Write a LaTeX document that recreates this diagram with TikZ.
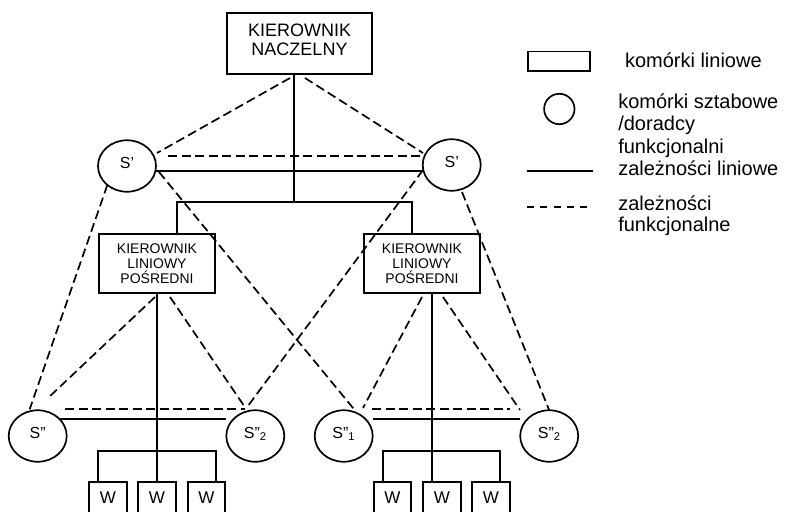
\documentclass[tikz,border=0pt]{standalone}
\usepackage{fontspec}
\setmainfont{Liberation Sans}
\usetikzlibrary{shapes.geometric,calc}

\begin{document}
\begin{tikzpicture}[x=1pt,y=-1pt,
  every node/.style={inner sep=0pt, outer sep=0pt},
  line/.style={line width=1.7pt},
  func/.style={line width=1.7pt, dash pattern=on 9pt off 4.5pt},
  keyfunc/.style={line width=1.7pt, dash pattern=on 7pt off 6.3pt},
  box/.style={draw, line width=1.7pt, rectangle, align=center},
  headbox/.style={box, minimum width=145.5pt, minimum height=61.5pt,
    font=\fontsize{18}{19}\selectfont},
  midbox/.style={box, minimum width=116.5pt, minimum height=59.5pt,
    font=\fontsize{14}{15}\selectfont},
  staff/.style={draw, ellipse, line width=1.7pt, minimum width=58pt,
    minimum height=51.5pt, text depth=7pt, font=\fontsize{16}{16}\selectfont},
  wbox/.style={box, anchor=north, minimum width=37.5pt, minimum height=32pt,
    font=\fontsize{17}{17}\selectfont},
  keytext/.style={anchor=base west, font=\fontsize{20}{22}\selectfont}
]
\useasboundingbox (0,0) rectangle (786,511);
\clip (0,0) rectangle (786,511);

% line cells
\node[headbox] (top) at (299.5,43.5) {KIEROWNIK\\NACZELNY\rule[-7.5pt]{0pt}{7.5pt}};
\node[midbox] (midL) at (157,263.5) {KIEROWNIK\\LINIOWY\\POŚREDNI};
\node[midbox] (midR) at (422,263.5) {KIEROWNIK\\LINIOWY\\POŚREDNI};

% staff cells
\node[staff] (sL)  at (127,166)   {S’};
\node[staff] (sR)  at (451.7,165) {S’};
\node[staff] (aL)  at (37.7,436)  {S”};
\node[staff] (aL2) at (255.3,436) {S”\textsubscript{2}};
\node[staff] (aR1) at (343.7,436) {S”\textsubscript{1}};
\node[staff] (aR2) at (549.2,436) {S”\textsubscript{2}};

% workers
\node[wbox] (wL1) at (108,482)   {W};
\node[wbox] (wL2) at (157,482)   {W};
\node[wbox] (wL3) at (206.5,482) {W};
\node[wbox] (wR1) at (392.5,482) {W};
\node[wbox] (wR2) at (442,482)   {W};
\node[wbox] (wR3) at (491,482)   {W};

% junction points of the line tree
\coordinate (jTop) at (294,202);
\coordinate (jL) at (177,202);
\coordinate (jR) at (412,202);
\coordinate (bL) at (157,451);
\coordinate (bR) at (432,451);
\coordinate (rLine) at ([yshift=17pt]aR1.east);

% line dependencies
\draw[line] (top.south -| jTop) -- (jTop);
\draw[line] (midL.north -| jL) -- (jL) -- (jR) -- (midR.north -| jR);
\draw[line] (sL.350) -- (sL.350 -| sR.west);
\draw[line] (midL.south) -- (wL2.north);
\draw[line] (aL.38) -- (aL.38 -| aL2.west);
\draw[line] ($(wL1.north)+(-10,0)$) |- (bL) -| ($(wL3.north)+(9.5,0)$);
\draw[line] ($(midR.south)+(10,0)$) -- ($(wR2.north)+(-10,0)$);
\draw[line] (rLine) -- (rLine -| aR2.west);
\draw[line] ($(wR1.north)+(-9.5,0)$) |- (bR) -| ($(wR3.north)+(9,0)$);

% functional dependencies
\draw[func] ($(top.south)+(-9.5,3.75)$) -- ($(sL)+(30,-13)$);
\draw[func] ($(top.south)+(5.5,3.75)$) -- ($(sR)+(-28.7,-12)$);
\draw[func] ($(sL)+(41,-10)$) -- ($(sR)+(-29,-9)$);
\draw[func] (sL.224) -- ($(aL.north)+(-8,-1)$);
\draw[func] ($(sL)+(32,6)$) -- ($(aR1.north)+(9.5,-2)$);
\draw[func] ($(sR)+(-28.7,5)$) -- ($(aL2.north)+(-8.3,-3)$);
\draw[func] ($(sR)+(10.3,27)$) -- (aR2.north);
\draw[func] ($(midL.south)+(-2,3.75)$) -- ($(aL)+(10.3,-38)$);
\draw[func] ($(midL.south)+(13,3.75)$) -- ($(aL2.north)+(-10.3,-3)$);
\draw[func] ($(aL)+(27.3,-27)$) -- ($(aL2)+(-10.3,-27)$);
\draw[func] ($(midR.south)+(0,3.75)$) -- ($(aR1)+(19.3,-28)$);
\draw[func] ($(midR.south)+(21,3.75)$) -- ($(aR2)+(-29.2,-26)$);
\draw[func] ($(aR1)+(28.3,-27)$) -- ($(aR2)+(-39.2,-27)$);

% key
\node[draw, line width=1.7pt, minimum width=62.4pt, minimum height=19.7pt] (keyBox) at (559,61.3) {};
\node[draw, circle, line width=1.7pt, minimum size=30.4pt] (keyCirc) at (559.3,109) {};
\coordinate (keyLineA) at (527,171);
\coordinate (keyLineB) at (593,171);
\coordinate (keyDashA) at (527,207);
\coordinate (keyDashB) at (593,207);
\draw[line] (keyLineA) -- (keyLineB);
\draw[keyfunc] (keyDashA) -- (keyDashB);

\node[keytext] (kt1) at (625,67.7)   {komórki liniowe};
\node[keytext] (kt2) at (618.3,108.3) {komórki sztabowe};
\node[keytext] (kt3) at (618.3,130.6) {/doradcy};
\node[keytext] (kt4) at (618.3,153)   {funkcjonalni};
\node[keytext] (kt5) at (618.3,175.3) {zależności liniowe};
\node[keytext] (kt6) at (618.3,210)   {zależności};
\node[keytext] (kt7) at (618.3,231.7) {funkcjonalne};
\end{tikzpicture}
\end{document}
